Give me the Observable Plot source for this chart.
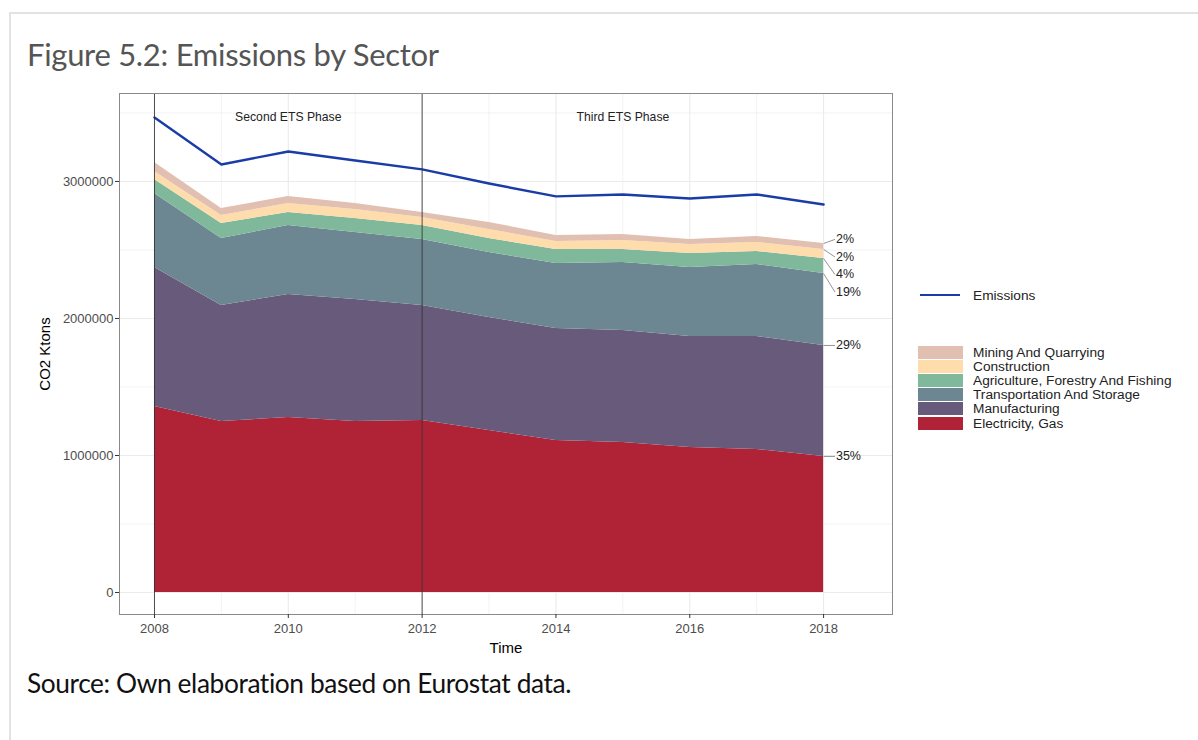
<!DOCTYPE html>
<html>
<head>
<meta charset="utf-8">
<script src="https://cdn.jsdelivr.net/npm/d3@7"></script>
<script src="https://cdn.jsdelivr.net/npm/@observablehq/plot@0.6"></script>
<style>
  html, body { margin: 0; padding: 0; background: #fff; }
  #page { position: relative; width: 1198px; height: 740px; overflow: hidden; }
  #frame { position: absolute; left: 9px; top: 12px; width: 1200px; height: 800px;
           border-left: 2px solid #e2e2e2; border-top: 2px solid #e2e2e2; }
  #title { position: absolute; left: 27px; top: 35px; font-family: Lato, "Noto Sans", sans-serif;
           font-size: 31px; color: #555; letter-spacing: -0.3px; white-space: nowrap; }
  #chart { position: absolute; left: 0; top: 80px; }
  #caption { position: absolute; left: 27px; top: 667px; font-family: Lato, "Noto Sans", sans-serif;
             font-size: 26.3px; color: #111; letter-spacing: -0.4px; white-space: nowrap; }
  #legend { position: absolute; left: 918px; top: 284px; font-family: "Liberation Sans", Arial, sans-serif;
            font-size: 13.7px; color: #222; }
  .lrow { position: absolute; left: 0; height: 14px; display: flex; align-items: center; white-space: nowrap; }
  .lsw { width: 45px; height: 13px; margin-right: 10px; }
  .lline { width: 40px; height: 2.5px; margin: 0 13px 0 2px; }
</style>
</head>
<body>
<div id="page">
  <div id="frame"></div>
  <div id="title">Figure 5.2: Emissions by Sector</div>
  <div id="chart"></div>
  <div id="legend"></div>
  <div id="caption">Source: Own elaboration based on Eurostat data.</div>
</div>
<script>
// ---- Data (CO2 Ktons) ----
const years = [2008, 2009, 2010, 2011, 2012, 2013, 2014, 2015, 2016, 2017, 2018];
const emissions = [3467000, 3124000, 3219000, 3153000, 3088000, 2985000, 2891000, 2905000, 2876000, 2905000, 2832000];
const electricityGas = [1358000, 1248000, 1277000, 1248000, 1255000, 1182000, 1109000, 1095000, 1058000, 1044000, 993000];
const manufacturing = [1014000, 847000, 898000, 891000, 840000, 825000, 818000, 817000, 811000, 825000, 810000];
const transportation = [540000, 489000, 504000, 489000, 482000, 475000, 474000, 497000, 503000, 525000, 525000];
const agriculture = [103000, 109000, 95000, 102000, 102000, 102000, 103000, 95000, 102000, 95000, 110000];
const construction = [58000, 59000, 65000, 66000, 58000, 66000, 58000, 65000, 66000, 66000, 66000];
const mining = [66000, 51000, 52000, 43000, 37000, 51000, 44000, 44000, 37000, 44000, 43000];
const sectorNames = ["Electricity, Gas", "Manufacturing", "Transportation And Storage",
  "Agriculture, Forestry And Fishing", "Construction", "Mining And Quarrying"];
const sectorColors = ["#b02337", "#675a7a", "#6c8692", "#80b89b", "#fedcab", "#e1bfb1"];
const shareLabels = ["35%", "29%", "19%", "4%", "2%", "2%"];
const phaseYears = [2008, 2012];
const phaseLabels = ["Second ETS Phase", "Third ETS Phase"];
const phaseLabelYears = [2010, 2015];
const yTicks = [0, 1000000, 2000000, 3000000];
const yMinor = [500000, 1500000, 2500000, 3500000];
const xTicks = [2008, 2010, 2012, 2014, 2016, 2018];
const xMinor = [2009, 2011, 2013, 2015, 2017];

// ---- Build tables ----
const seriesList = [electricityGas, manufacturing, transportation, agriculture, construction, mining];
const areaData = [];
seriesList.forEach((vals, si) => {
  vals.forEach((v, i) => areaData.push({year: years[i], value: v, sector: sectorNames[si], order: si}));
});
const lineData = years.map((y, i) => ({year: y, value: emissions[i]}));

// end-of-series share labels (stacked top at last year, pushed apart top-down)
const last = years.length - 1;
let cum = 0;
const tops = seriesList.map(vals => (cum += vals[last]));
const labelData = tops.map((t, i) => ({top: t, label: shareLabels[i], ly: t}));
const minGap = 128000;
let prev = Infinity;
for (let i = labelData.length - 1; i >= 0; i--) {
  const start = (i === labelData.length - 1) ? labelData[i].top + 30000 : labelData[i].top;
  labelData[i].ly = Math.min(start, prev - minGap);
  prev = labelData[i].ly;
}
const lastYear = years[last];
const labelYear = lastYear + 0.17;

const font = "Liberation Sans, Arial, sans-serif";
const chart = Plot.plot({
  width: 900,
  height: 585,
  marginLeft: 119,
  marginRight: 8,
  marginTop: 13,
  marginBottom: 51,
  style: {fontFamily: font, background: "transparent"},
  x: {domain: [2007.477, 2019.03]},
  y: {domain: [-160600, 3642000]},
  color: {domain: sectorNames, range: sectorColors},
  marks: [
    Plot.gridY(yMinor, {stroke: "#ebebeb", strokeOpacity: 1, strokeWidth: 0.6}),
    Plot.gridX(xMinor, {stroke: "#ebebeb", strokeOpacity: 1, strokeWidth: 0.6}),
    Plot.gridY(yTicks, {stroke: "#ebebeb", strokeOpacity: 1, strokeWidth: 1.1}),
    Plot.gridX(xTicks, {stroke: "#ebebeb", strokeOpacity: 1, strokeWidth: 1.1}),
    Plot.areaY(areaData, {x: "year", y: "value", fill: "sector", order: sectorNames, z: "sector", fillOpacity: 1}),
    Plot.line(lineData, {x: "year", y: "value", stroke: "#1a3ca6", strokeWidth: 2.4}),
    Plot.ruleX(phaseYears, {stroke: "#333", strokeWidth: 1, strokeOpacity: 0.85}),
    Plot.text(phaseLabels, {x: (d, i) => phaseLabelYears[i], y: 3467000, text: d => d,
      dy: -0.5, fontSize: 12.2, fill: "#222"}),
    Plot.link(labelData, {x1: lastYear, y1: "top", x2: labelYear, y2: "ly", stroke: "#777", strokeWidth: 0.8}),
    Plot.text(labelData, {x: labelYear, y: "ly", text: "label", textAnchor: "start", dx: 1, fontSize: 12.5, fill: "#222"}),
    Plot.frame({stroke: "#8a8a8a", strokeWidth: 1}),
    Plot.axisY(yTicks, {tickFormat: d => String(d), tickSize: 4, tickPadding: 2, fontSize: 13, fill: "#4d4d4d",
      stroke: "#333", label: "CO2 Ktons", labelAnchor: "center", labelArrow: "none", labelOffset: 80}),
    Plot.axisX(xTicks, {tickFormat: d => String(d), tickSize: 4, tickPadding: 5, fontSize: 13, fill: "#4d4d4d",
      stroke: "#333", label: "Time", labelAnchor: "center", labelArrow: "none", labelOffset: 38})
  ]
});
// make axis titles bigger / darker
chart.querySelectorAll("g[aria-label='y-axis label'] text, g[aria-label='x-axis label'] text").forEach(t => {
  t.setAttribute("font-size", "15");
  t.setAttribute("fill", "#000");
  t.style.fontSize = "15px";
});
document.getElementById("chart").appendChild(chart);

// ---- Legend ----
const legend = document.getElementById("legend");
const emRow = document.createElement("div");
emRow.className = "lrow";
emRow.style.top = "4px";
emRow.innerHTML = `<span class="lline" style="background:#1a3ca6"></span><span>Emissions</span>`;
legend.appendChild(emRow);
const legendOrder = sectorNames.map((n, i) => i).reverse();
legendOrder.forEach((si, k) => {
  const row = document.createElement("div");
  row.className = "lrow";
  row.style.top = (61 + k * 14.2) + "px";
  row.innerHTML = `<span class="lsw" style="background:${sectorColors[si]}"></span><span>${sectorNames[si]}</span>`;
  legend.appendChild(row);
});
</script>
</body>
</html>
